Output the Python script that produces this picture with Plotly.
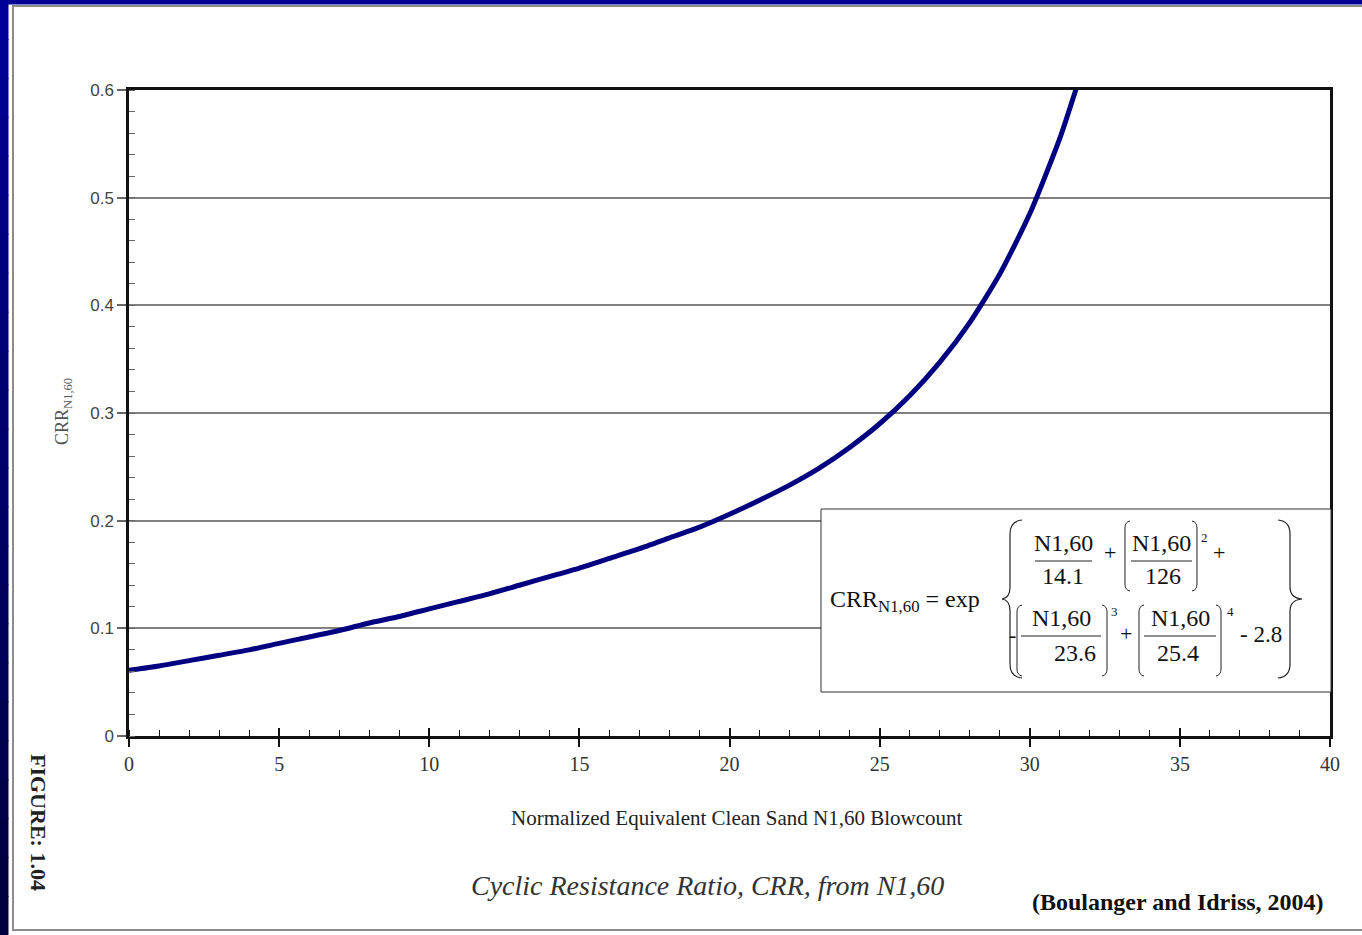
import plotly.graph_objects as go

# Normalized clean-sand blowcount N1,60 and the cyclic resistance ratio on the curve
n160 = [0, 1, 2, 3, 4, 5, 6, 7, 8, 9, 10, 11, 12, 13, 14, 15, 16, 17, 18, 19,
        20, 21, 22, 23, 24, 25, 26, 27, 28, 29, 30, 31, 31.6]
crr = [0.061, 0.065, 0.070, 0.075, 0.080, 0.086, 0.092, 0.098, 0.105, 0.111,
       0.118, 0.125, 0.132, 0.140, 0.148, 0.156, 0.165, 0.174, 0.184, 0.194,
       0.206, 0.219, 0.233, 0.249, 0.268, 0.290, 0.316, 0.347, 0.384, 0.429,
       0.485, 0.555, 0.606]

x_ticks = [0, 5, 10, 15, 20, 25, 30, 35, 40]
y_ticks = [0, 0.1, 0.2, 0.3, 0.4, 0.5, 0.6]
y_tick_labels = ["0", "0.1", "0.2", "0.3", "0.4", "0.5", "0.6"]

W, H = 1362, 935
SERIF = "Liberation Serif"
SANS = "Liberation Sans"


def fx(x):
    return x / W


def fy(y):
    return 1 - y / H


fig = go.Figure()
fig.add_trace(go.Scatter(
    x=n160, y=crr, mode="lines",
    line=dict(color="#000080", width=5, shape="spline", smoothing=0.6),
    hoverinfo="skip", showlegend=False,
))
# companion axis carrying the upward half of the crossing major ticks
fig.add_trace(go.Scatter(x=[], y=[], xaxis="x2", yaxis="y", showlegend=False,
                         hoverinfo="skip"))

shapes = []
annotations = []

# slide border: navy strip down the left edge fading darker, and along the top
steps = 24
for i in range(steps):
    t = i / (steps - 1)
    b = int(150 - (150 - 62) * t)
    y0 = H * i / steps
    y1 = H * (i + 1) / steps + 1
    shapes.append(dict(type="rect", xref="paper", yref="paper",
                       x0=0, x1=fx(8.5), y0=fy(y1), y1=fy(y0),
                       fillcolor=f"rgb(0,0,{b})", line=dict(width=0), layer="below"))
shapes.append(dict(type="rect", xref="paper", yref="paper",
                   x0=0, x1=1, y0=fy(4.5), y1=1,
                   fillcolor="rgb(0,0,150)", line=dict(width=0), layer="below"))
# thin grey frame of the page
shapes.append(dict(type="rect", xref="paper", yref="paper",
                   x0=fx(13), x1=fx(1380), y0=fy(930), y1=fy(6),
                   line=dict(color="#8c8c8c", width=2), layer="below"))

# equation box
shapes.append(dict(type="rect", xref="paper", yref="paper",
                   x0=fx(821), x1=fx(1331), y0=fy(692), y1=fy(509),
                   fillcolor="white", line=dict(color="#333333", width=1), layer="above"))


def path(cmds):
    out = []
    for cmd, pts in cmds:
        coords = " ".join(f"{fx(px):.5f},{fy(py):.5f}" for px, py in pts)
        out.append(f"{cmd} {coords}")
    return " ".join(out)


def add_path(d, width=1.2, color="#222222"):
    shapes.append(dict(type="path", xref="paper", yref="paper", path=d,
                       line=dict(color=color, width=width), layer="above"))


def brace(x_end, x_spine, x_tip, top, mid, bot):
    add_path(path([("M", [(x_end, top)]), ("Q", [(x_spine, top + 1), (x_spine, top + 14)]),
                   ("L", [(x_spine, mid - 12)]), ("Q", [(x_spine, mid - 1), (x_tip, mid)]),
                   ("Q", [(x_spine, mid + 1), (x_spine, mid + 12)]),
                   ("L", [(x_spine, bot - 14)]), ("Q", [(x_spine, bot - 1), (x_end, bot)])]))


# curly braces around the exponent
brace(1022, 1010, 1002, 520, 599, 678)
brace(1278, 1290, 1302, 520, 599, 678)


def bracket_pair(xl, xr, t, b):
    add_path(path([("M", [(xl + 5, t)]), ("Q", [(xl, t + 1), (xl, t + 7)]),
                   ("L", [(xl, b - 7)]), ("Q", [(xl, b - 1), (xl + 5, b)])]), width=1)
    add_path(path([("M", [(xr - 5, t)]), ("Q", [(xr, t + 1), (xr, t + 7)]),
                   ("L", [(xr, b - 7)]), ("Q", [(xr, b - 1), (xr - 5, b)])]), width=1)


def txt(x, y, s, size=20, anchor="center", color="#111111", family=SERIF, angle=0):
    annotations.append(dict(x=fx(x), y=fy(y), xref="paper", yref="paper",
                            text=s, showarrow=False, xanchor=anchor, yanchor="middle",
                            textangle=angle,
                            font=dict(family=family, size=size, color=color)))


def fraction(cx, num, den, y_num, y_line, y_den, x0, x1, dcx=None, size=24):
    txt(cx, y_num, num, size=size)
    txt(dcx if dcx is not None else cx, y_den, den, size=size)
    shapes.append(dict(type="line", xref="paper", yref="paper",
                       x0=fx(x0), x1=fx(x1), y0=fy(y_line), y1=fy(y_line),
                       line=dict(color="#222222", width=1), layer="above"))


txt(828, 601, "CRR<sub>N1,60</sub> = exp", size=24, anchor="left")

# top row of the exponent
fraction(1063, "N1,60", "14.1", 543, 561, 576, 1035, 1092)
txt(1110, 552, "+", size=22)
bracket_pair(1125, 1197, 521, 591)
fraction(1161, "N1,60", "126", 543, 561, 576, 1131, 1192, dcx=1163)
txt(1204, 537, "2", size=13)
txt(1219, 552, "+", size=22)

# bottom row of the exponent
txt(1012, 634, "-", size=22)
bracket_pair(1017, 1107, 605, 676)
fraction(1061, "N1,60", "23.6", 618, 636, 653, 1021, 1101, dcx=1075)
txt(1114, 611, "3", size=13)
txt(1126, 633, "+", size=22)
bracket_pair(1139, 1221, 605, 676)
fraction(1180, "N1,60", "25.4", 618, 636, 653, 1144, 1216, dcx=1178)
txt(1230, 611, "4", size=13)
txt(1261, 634, "- 2.8", size=23)

# axis titles, caption, citation and figure number
txt(63, 412, "CRR<sub>N1,60</sub>", size=18, color="#555555", angle=-90)
txt(737, 818, "Normalized Equivalent Clean Sand N1,60 Blowcount", size=21, color="#222222")
txt(707, 885, "<i>Cyclic Resistance Ratio, CRR, from N1,60</i>", size=28, color="#333333")
txt(1178, 902, "<b>(Boulanger and Idriss, 2004)</b>", size=24, color="#111111")
txt(39, 822, "<b>FIGURE: 1.04</b>", size=22, color="#222222", angle=90)

x_dom = [fx(129), fx(1330)]
y_dom = [fy(736), fy(90)]

fig.update_layout(
    width=W, height=H,
    margin=dict(l=0, r=0, t=0, b=0, pad=0, autoexpand=False),
    paper_bgcolor="white", plot_bgcolor="white",
    showlegend=False,
    xaxis=dict(
        domain=x_dom, range=[0, 40], tickvals=x_ticks, automargin=False,
        ticks="outside", ticklen=8, tickwidth=1.5, tickcolor="#111111",
        showline=True, linecolor="#111111", linewidth=2.5, mirror=True,
        showgrid=False, zeroline=False, anchor="y",
        tickfont=dict(family=SERIF, size=20, color="#333333"),
        minor=dict(ticks="inside", dtick=1, ticklen=6, tickwidth=1.2, tickcolor="#111111"),
    ),
    xaxis2=dict(
        domain=x_dom, range=[0, 40], tickvals=x_ticks, overlaying="x", anchor="y",
        automargin=False,
        side="bottom", ticks="inside", ticklen=8, tickwidth=1.5, tickcolor="#111111",
        showticklabels=False, showgrid=False, zeroline=False, showline=False,
    ),
    yaxis=dict(
        domain=y_dom, range=[0, 0.6], tickvals=y_ticks, ticktext=y_tick_labels,
        automargin=False,
        ticks="outside", ticklen=9, tickwidth=1.5, tickcolor="#666666",
        showline=True, linecolor="#111111", linewidth=2.5, mirror=True,
        showgrid=True, gridcolor="#808080", gridwidth=1.5, zeroline=False,
        tickfont=dict(family=SANS, size=17, color="#444444"),
        minor=dict(ticks="inside", dtick=0.02, ticklen=6, tickwidth=1.2, tickcolor="#666666"),
    ),
    shapes=shapes,
    annotations=annotations,
)

fig.write_html("out.html")
